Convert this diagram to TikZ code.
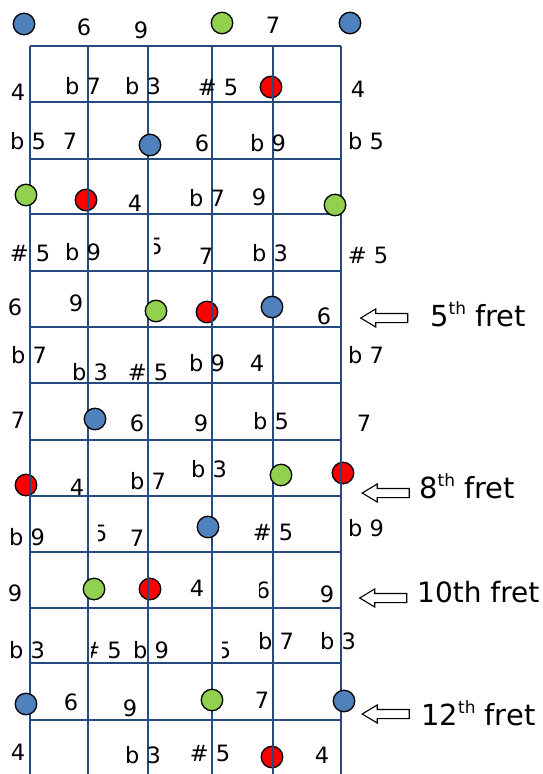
\documentclass[tikz,border=0pt]{standalone}
\usepackage{fontspec}
\setmainfont{DejaVu Sans}
\usetikzlibrary{shapes.arrows}
\definecolor{fretblue}{HTML}{244A7E}
\definecolor{dotblue}{HTML}{4F81BD}
\definecolor{dotgreen}{HTML}{92D050}
\definecolor{dotred}{HTML}{FF0000}
\tikzset{
  note/.style={inner sep=0pt,font=\fontsize{22.5}{22.5}\selectfont},
  dot/.style={circle,draw=black,line width=1.3pt,minimum size=21.5pt,inner sep=0pt},
  bluedot/.style={dot,fill=dotblue},
  greendot/.style={dot,fill=dotgreen},
  reddot/.style={dot,fill=dotred},
  fretline/.style={fretblue,line width=2pt},
  fretarrow/.style={single arrow,draw=black,line width=1.1pt,shape border rotate=180,
    minimum height=47pt,minimum width=17pt,single arrow head extend=4.5pt,
    single arrow tip angle=62,inner sep=4pt},
  fretlabel/.style={anchor=base west,inner sep=0pt,font=\fontsize{29}{29}\selectfont}
}
\newcommand{\supth}{\raisebox{12pt}{\fontsize{17}{17}\selectfont th}}
\begin{document}
\begin{tikzpicture}[x=1pt,y=-1pt]
  \useasboundingbox (0,0) rectangle (543,774);
  % red dots lie under the strings
  \node[reddot] (d1a) at (271,87) {};
  \node[reddot] (d3a) at (86,200) {};
  \node[reddot] (d5b) at (207,312) {};
  \node[reddot] (d8a) at (26,485) {};
  \node[reddot] (d8b) at (343,473) {};
  \node[reddot] (d10b) at (150,589) {};
  \node[reddot] (d13a) at (272,757) {};
  % strings and frets
  \draw[fretline] (30,46) -- (30,774) (88,46) -- (88,774) (148,46) -- (148,774)
    (212,46) -- (212,774) (273,46) -- (273,774) (341,46) -- (341,774);
  \draw[fretline] (30,46) -- (341,46) (30,102) -- (341,102) (30,159) -- (341,159)
    (30,214) -- (341,214) (30,271) -- (341,271) (30,327) -- (341,327)
    (30,383) -- (341,383) (30,440) -- (341,440) (30,496) -- (341,496)
    (30,552) -- (341,552) (30,608) -- (341,608) (30,663) -- (341,663)
    (30,720) -- (341,720);
  % blue and green dots
  \node[bluedot] (d0a) at (24,24) {};
  \node[greendot] (d0b) at (222,23) {};
  \node[bluedot] (d0c) at (350,23) {};
  \node[bluedot] (d2a) at (150,145) {};
  \node[greendot] (d3b) at (26,195) {};
  \node[greendot] (d3c) at (335,205) {};
  \node[greendot] (d5a) at (156,311) {};
  \node[bluedot] (d5c) at (272,307) {};
  \node[bluedot] (d7a) at (95,419) {};
  \node[greendot] (d8c) at (281,475) {};
  \node[bluedot] (d9a) at (208,527) {};
  \node[greendot] (d10a) at (94,589) {};
  \node[bluedot] (d12a) at (26,704) {};
  \node[greendot] (d12b) at (212,700) {};
  \node[bluedot] (d12c) at (344,701) {};
  % notes
  \node[note] (n0a) at (84,27) {6};
  \node[note] (n0b) at (141,30) {9};
  \node[note] (n0c) at (273,25) {7};
  \node[note] (n1a) at (18,92) {4};
  \node[note] (n1b) at (83,86) {b 7};
  \node[note] (n1c) at (143,86) {b 3};
  \node[note] (n1d) at (218,87) {\# 5};
  \node[note] (n1e) at (358,89) {4};
  \node[note] (n2a) at (28,141) {b 5};
  \node[note] (n2b) at (70,141) {7};
  \node[note] (n2c) at (202,143) {6};
  \node[note] (n2d) at (268,143) {b 9};
  \node[note] (n2e) at (366,141) {b 5};
  \node[note] (n3a) at (135,203) {4};
  \node[note] (n3b) at (207,198) {b 7};
  \node[note] (n3c) at (259,197) {9};
  \node[note] (n4a) at (30,253) {\# 5};
  \node[note] (n4b) at (83,252) {b 9};
  \begin{scope}
    \clip (154,230) rectangle (175,265);
    \node[note] (n4c) at (155.5,246) {5};
  \end{scope}
  \node[note] (n4d) at (206,256) {7};
  \node[note] (n4e) at (270,253) {b 3};
  \node[note] (n4f) at (368,255) {\# 5};
  \node[note] (n5a) at (15,307) {6};
  \node[note] (n5b) at (76,303) {9};
  \node[note] (n5c) at (324,316) {6};
  \node[note] (n6a) at (29,355) {b 7};
  \node[note] (n6b) at (90,372) {b 3};
  \node[note] (n6c) at (148,372) {\# 5};
  \node[note] (n6d) at (207,363) {b 9};
  \node[note] (n6e) at (257,363) {4};
  \node[note] (n6f) at (366,355) {b 7};
  \node[note] (n7a) at (18,420) {7};
  \node[note] (n7b) at (137,423) {6};
  \node[note] (n7c) at (201,423) {9};
  \node[note] (n7d) at (271,421) {b 5};
  \node[note] (n7e) at (364,423) {7};
  \node[note] (n8a) at (77,487) {4};
  \node[note] (n8b) at (148,481) {b 7};
  \node[note] (n8c) at (209,469) {b 3};
  \node[note] (n9a) at (27,537) {b 9};
  \begin{scope}
    \clip (98.5,515) rectangle (120,550);
    \node[note] (n9b) at (100.2,533) {5};
  \end{scope}
  \node[note] (n9c) at (137,538) {7};
  \node[note] (n9d) at (273,532) {\# 5};
  \node[note] (n9e) at (366,528) {b 9};
  \node[note] (n10a) at (15,593) {9};
  \node[note] (n10b) at (197,588) {4};
  \begin{scope}
    \clip (259.5,570) rectangle (280,608);
    \node[note] (n10c) at (263,590) {6};
  \end{scope}
  \node[note] (n10d) at (327,594) {9};
  \node[note] (n11a) at (27,650) {b 3};
  \begin{scope}
    \clip (91.7,630) rectangle (135,668);
    \node[note] (n11b) at (101.5,650) {\# 5};
  \end{scope}
  \node[note] (n11c) at (151,650) {b 9};
  \begin{scope}
    \clip (222.5,630) rectangle (240,668);
    \node[note] (n11d) at (224,650) {5};
  \end{scope}
  \node[note] (n11e) at (276,641) {b 7};
  \node[note] (n11f) at (338,641) {b 3};
  \node[note] (n12a) at (71,702) {6};
  \node[note] (n12b) at (130,708) {9};
  \node[note] (n12c) at (262,700) {7};
  \node[note] (n13a) at (18,752) {4};
  \node[note] (n13b) at (143,755) {b 3};
  \node[note] (n13c) at (210,753) {\# 5};
  \node[note] (n13d) at (322,755) {4};
  % fret markers
  \node[fretarrow] (a5) at (388,318) {};
  \node[fretlabel] (f5) at (430,326) {5\supth{} fret};
  \node[fretarrow] (a8) at (389.5,493) {};
  \node[fretlabel] (f8) at (419,498) {8\supth{} fret};
  \node[fretarrow] (a10) at (387,598) {};
  \node[fretlabel,font=\fontsize{28}{28}\selectfont] (f10) at (417,602) {10th fret};
  \node[fretarrow] (a12) at (389.5,714) {};
  \node[fretlabel] (f12) at (421,725) {12\supth{} fret};
\end{tikzpicture}
\end{document}
